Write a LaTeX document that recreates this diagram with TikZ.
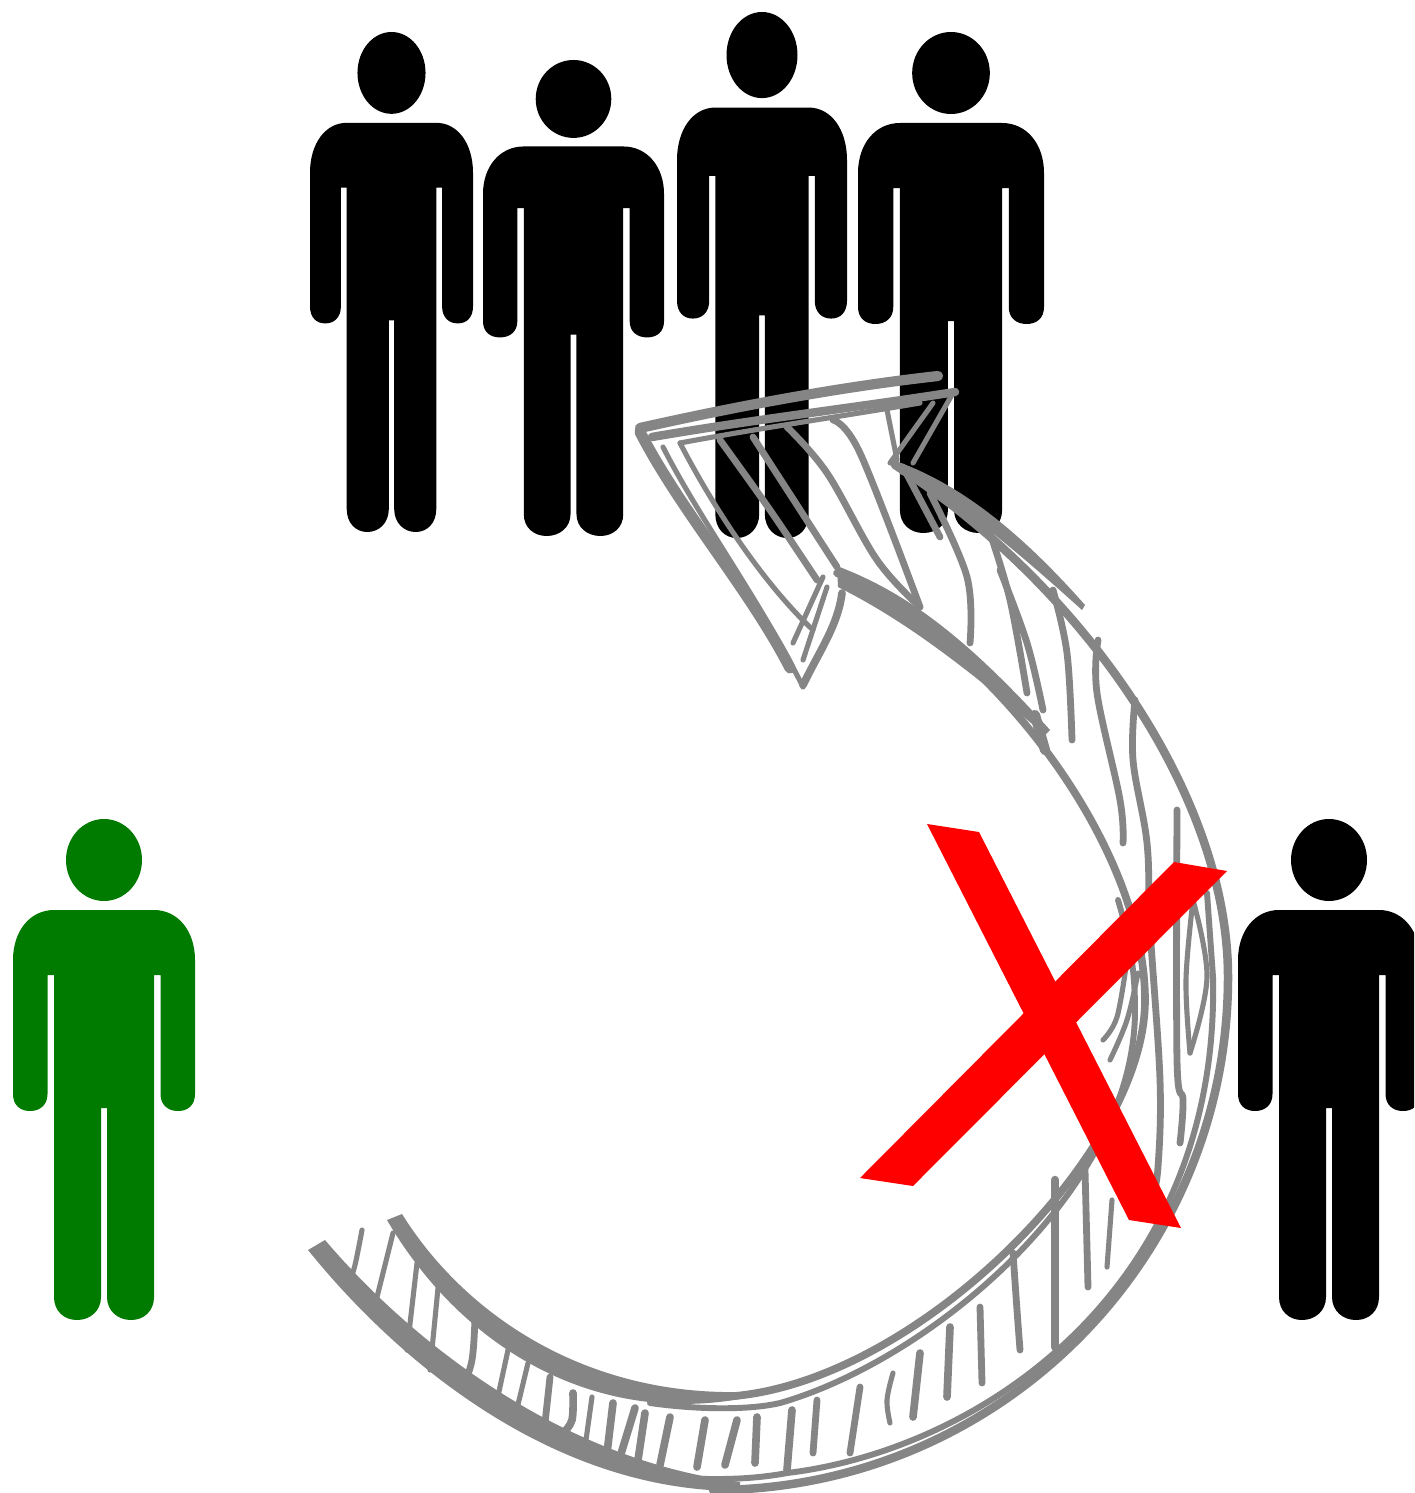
\documentclass[tikz,border=0pt]{standalone}
\definecolor{skg}{HTML}{858585}
\definecolor{mangreen}{HTML}{007B00}
\tikzset{
  sk/.style={draw=skg,line width=#1*0.85pt,line cap=round,line join=round}
}
\newcommand\personfig[5]{%
  \begin{scope}[shift={(#1,#2)},xscale=#3/182,yscale=#4/501]
    \fill[#5] (0,41) ellipse [x radius=38,y radius=41];
    \fill[#5] (-50,91) -- (50,91) .. controls (74,91) and (91,112) .. (91,141)
      -- (91,275) .. controls (91,286) and (84,292) .. (74,292)
      .. controls (64,292) and (56.5,286) .. (56.5,275) -- (56.5,156) -- (50,156)
      -- (50,478) .. controls (50,492) and (40,501) .. (27,501)
      .. controls (14,501) and (3,492) .. (3,478) -- (3,289) -- (-3,289)
      -- (-3,478) .. controls (-3,492) and (-14,501) .. (-27,501)
      .. controls (-40,501) and (-50,492) .. (-50,478) -- (-50,156) -- (-56.5,156)
      -- (-56.5,275) .. controls (-56.5,286) and (-64,292) .. (-74,292)
      .. controls (-84,292) and (-91,286) .. (-91,275) -- (-91,141)
      .. controls (-91,112) and (-74,91) .. (-50,91) -- cycle;
  \end{scope}}
\newcommand\skl[2]{\draw[sk=#1] plot[smooth,tension=.6] coordinates {#2};}
\begin{document}
\begin{tikzpicture}[x=0.5pt,y=-0.5pt]
  \useasboundingbox (0,0) rectangle (1414,1493);
  \clip (0,0) rectangle (1414,1493);
  \fill[white] (0,0) rectangle (1414,1493);
  % people
  \personfig{391.5}{32}{163}{500}{black}
  \personfig{573.5}{60}{181}{476}{black}
  \personfig{762}{12}{170}{526}{black}
  \personfig{951}{32}{186}{501}{black}
  \personfig{104}{819}{182}{501}{mangreen}
  \personfig{1329}{819}{182}{501}{black}
  % tapered bands at the tail
  \fill[skg] (325,1240) .. controls (410,1340) and (560,1460) .. (740,1482)
     -- (740,1491) .. controls (560,1492) and (405,1370) .. (308,1250) -- cycle;
  \fill[skg] (402,1214) .. controls (465,1315) and (585,1395) .. (740,1392)
     -- (740,1399) .. controls (590,1425) and (460,1345) .. (387,1220) -- cycle;
  % tapered bands at the head
  \fill[skg] (893,460) .. controls (950,480) and (1010,520) .. (1085,605)
     -- (1082,610) .. controls (1010,545) and (950,495) .. (900,474) -- cycle;
  \fill[skg] (837,566) .. controls (900,590) and (960,630) .. (1050,730)
     -- (1045,735) .. controls (960,662) and (900,618) .. (838,587) -- cycle;
  % outer edge
  \draw[sk=5] (713,1490) .. controls (997,1490) and (1228,1261) .. (1228,977)
     .. controls (1228,790) and (1075,580) .. (895,465);
  % second outer strand
  \draw[sk=3.5] (630,1473) .. controls (700,1482) and (750,1480) .. (787,1473)
     .. controls (980,1450) and (1220,1290) .. (1213,977) -- (1207,893);
  % inner edge
  \draw[sk=4.5] (713,1397) .. controls (900,1397) and (1145,1160) .. (1145,1000)
     .. controls (1145,850) and (1000,650) .. (837,573);
  \draw[sk=6] (1045,750) -- (1035,715);
  % second inner strand
  \draw[sk=3.5] (650,1403) .. controls (700,1410) and (750,1410) .. (780,1403)
     .. controls (930,1360) and (1135,1190) .. (1135,1010) .. controls (1135,970) and (1130,940) .. (1118,900);
  % hatching along the shaft
  \skl{3}{(362,1230) (355,1265) (348,1287)}
  \skl{3}{(393,1233) (372,1317)}
  \skl{3}{(417,1263) (407,1350)}
  \skl{3}{(438,1288) (430,1370)}
  \skl{4}{(475,1317) (472,1360) (462,1390)}
  \skl{3}{(508,1350) (495,1410)}
  \skl{3}{(528,1363) (515,1417)}
  \skl{4}{(550,1377) (545,1423)}
  \skl{4.5}{(573,1393) (572,1420) (563,1433)}
  \skl{3}{(592,1397) (585,1447)}
  \skl{4.5}{(613,1403) (607,1453)}
  \skl{4.5}{(635,1408) (620,1457)}
  \skl{4.5}{(645,1413) (638,1460)}
  \skl{4.5}{(670,1417) (660,1465)}
  \skl{4.5}{(705,1420) (697,1467)}
  \skl{4.5}{(737,1420) (725,1465)}
  \skl{4.5}{(757,1417) (755,1463)}
  \skl{4.5}{(792,1410) (787,1470)}
  \skl{4}{(817,1400) (813,1453)}
  \skl{4}{(860,1387) (850,1453)}
  \skl{3}{(893,1373) (887,1400) (890,1423)}
  \skl{4.5}{(920,1353) (913,1417)}
  \skl{4.5}{(950,1327) (947,1397)}
  \skl{4}{(980,1307) (982,1383)}
  \skl{4}{(1013,1253) (1017,1310) (1020,1350)}
  \skl{5}{(1055,1180) (1055,1347)}
  \skl{4}{(1085,1170) (1088,1287)}
  \skl{3}{(1112,1200) (1107,1267)}
  % long strokes on the right of the shaft
  \skl{4}{(1177,810) (1177,1060) (1183,1100) (1180,1143)}
  \skl{4}{(1135,700) (1133,760) (1147,843) (1150,927) (1160,1080) (1158,1167) (1152,1200)}
  \skl{4}{(1098,640) (1097,693) (1120,800) (1123,843)}
  \skl{4}{(1053,590) (1067,653) (1072,740)}
  \skl{4}{(1000,570) (1027,643) (1043,710)}
  \skl{3}{(1193,900) (1207,977) (1190,1053)}
  \skl{3}{(1193,900) (1186,980) (1190,1053)}
  \skl{3}{(1138,973) (1127,1020) (1110,1060)}
  \skl{3}{(1127,960) (1117,1017) (1103,1040)}
  % strokes near the head
  \skl{4}{(990,533) (1010,600) (1027,693)}
  \skl{4}{(930,493) (967,577) (970,643)}
  \skl{4}{(833,420) (860,453) (920,607)}
  \skl{4}{(787,427) (827,473) (877,560) (920,607)}
  \skl{4}{(753,437) (837,567)}
  \skl{4}{(720,440) (770,510) (817,580)}
  \skl{3}{(887,410) (897,460)}
  \skl{3}{(953,393) (913,463)}
  \skl{3}{(933,403) (890,463)}
  \skl{4}{(903,467) (940,537)}
  % arrow head
  \draw[sk=6] (640,428) .. controls (720,410) and (830,388) .. (938,376);
  \draw[sk=5] (652,437) .. controls (750,420) and (860,407) .. (955,392);
  \draw[sk=3] (680,443) .. controls (760,428) and (850,415) .. (920,403);
  \draw[sk=6.5] (640,432) .. controls (680,510) and (750,590) .. (790,668);
  \draw[sk=3] (663,447) .. controls (700,520) and (760,600) .. (803,687);
  \draw[sk=3] (680,443) .. controls (720,520) and (770,590) .. (813,630);
  \draw[sk=4.5] (803,685) .. controls (820,650) and (838,625) .. (842,593);
  \skl{3}{(803,660) (827,587)}
  \skl{3}{(823,577) (793,643)}
  % cross
  \fill[red] (927,824) -- (979,832) -- (1181,1228) -- (1129,1220) -- cycle;
  \fill[red] (1174,862) -- (1227,871) -- (913,1186) -- (860,1178) -- cycle;
\end{tikzpicture}
\end{document}
